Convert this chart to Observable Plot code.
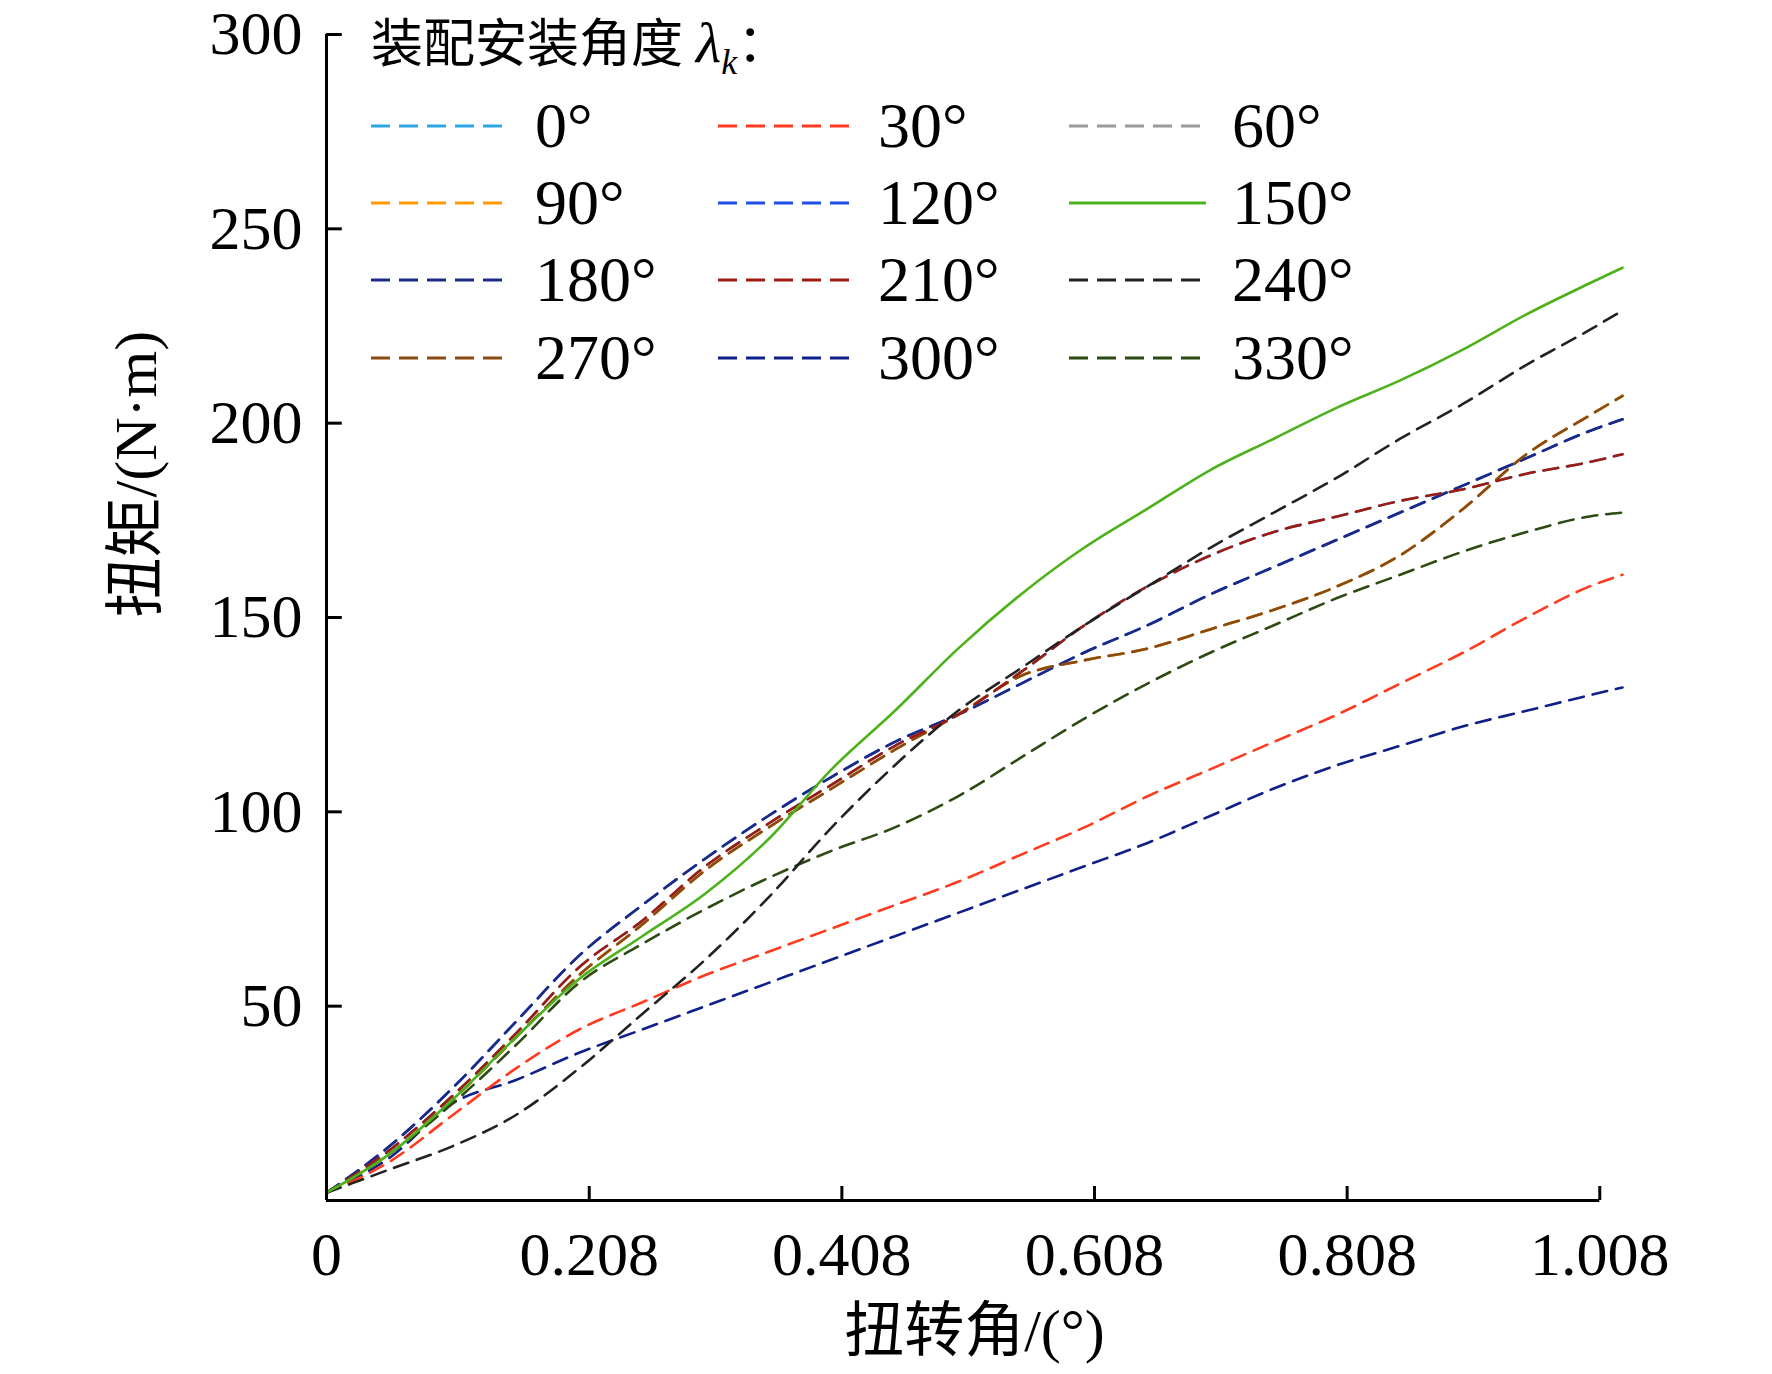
<!DOCTYPE html>
<html><head><meta charset="utf-8">
<script src="https://cdn.jsdelivr.net/npm/d3@7"></script>
<script src="https://cdn.jsdelivr.net/npm/@observablehq/plot@0.6"></script>
<style>
body{margin:0;background:#fff;}
#wrap{position:relative;width:1772px;height:1374px;font-family:"Liberation Serif","Noto Sans CJK SC",serif;}
#legend{position:absolute;left:0;top:0;}
</style></head><body>
<div id="wrap"><div id="chart"></div><div id="legend"></div></div>
<script>
const angles = ["0°","30°","60°","90°","120°","150°","180°","210°","240°","270°","300°","330°"];
const colors = ["#2ea6e6","#ff3a1e","#9a9a9a","#ff9a00","#1f4fe6","#4cb11a","#1a2a86","#a01a10","#222222","#8a4a10","#10208a","#2d4a12"];
const xs = [0,0.05,0.1,0.15,0.2,0.25,0.3,0.35,0.4,0.45,0.5,0.55,0.6,0.65,0.7,0.75,0.8,0.85,0.9,0.95,1.0,1.026];
const s210 = [2,13,27,43,60,72,86,97,107,117,125,136,148,158,166,172,176,180,183,187,190,192];
const s270 = [2,12,26,42,58,71,85,96,106,116,125,135,139,142,147,152,158,166,178,192,202,207];
const s120 = [2,14,29,46,63,76,88,99,109,118,125,133,141,148,156,163,170,177,184,191,198,201];
const s150 = [2,12,26,42,57,68,79,93,111,126,142,156,168,178,188,196,204,211,219,228,236,240];
const s240 = [2,8,14,22,34,48,62,78,96,112,126,137,148,158,168,177,186,196,205,215,224,229];
const s330 = [2,12,25,40,56,66,75,83,90,96,104,114,124,133,141,148,155,161,167,172,176,177];
const s30  = [2,10,22,34,44,51,58,64,70,76,82,89,96,104,111,118,125,133,141,150,158,161];
const s300 = [2,11,25,31,38,44,50,56,62,68,74,80,86,92,99,106,112,117,122,126,130,132];
const seriesVals = [s210,s30,s270,s270,s120,s150,s120,s210,s240,s270,s300,s330];
const xTicks = [0,0.208,0.408,0.608,0.808,1.008];
const yTicks = [50,100,150,200,250,300];

const rows = [];
angles.forEach((a,i)=>seriesVals[i].forEach((v,j)=>rows.push({a,x:xs[j],y:v})));
const order = [2,0,3,4,6,9,7,10,1,11,8,5];
const marks = [];
for (const i of order) {
  marks.push(Plot.line(rows.filter(r=>r.a===angles[i]),{x:"x",y:"y",stroke:colors[i],strokeWidth:2.6,
    strokeDasharray:i===5?null:"15,9",curve:"monotone-x"}));
}
const chart = Plot.plot({
  width:1772,height:1374,marginLeft:326,marginRight:150,marginTop:34,marginBottom:174,
  style:{fontFamily:"Liberation Serif, serif",background:"#fff"},
  x:{domain:[0,1.026]},
  y:{domain:[0,300]},
  marks:[
    ...marks,
    Plot.ruleY([0],{x1:0,x2:1.008,stroke:"#000",strokeWidth:3}),
    Plot.ruleX([0],{y1:0,y2:300,stroke:"#000",strokeWidth:3}),
    Plot.ruleX(xTicks.slice(1),{y1:0,y2:3.6,stroke:"#000",strokeWidth:3}),
    Plot.ruleY(yTicks,{x1:0,x2:0.0125,stroke:"#000",strokeWidth:3}),
    Plot.axisX({ticks:xTicks,tickSize:0,tickPadding:30,fontSize:62,tickFormat:d=>d===0?"0":d.toFixed(3),label:null}),
    Plot.axisY({ticks:yTicks,tickSize:0,tickPadding:24,fontSize:62,label:null}),
    Plot.text(["扭转角/(°)"],{frameAnchor:"bottom",dy:150,fontSize:60,fontFamily:"Liberation Serif, Noto Sans CJK SC"}),
    Plot.text(["扭矩/(N·m)"],{frameAnchor:"left",dx:-190,rotate:-90,fontSize:60,fontFamily:"Liberation Serif, Noto Sans CJK SC"})
  ]
});
document.getElementById("chart").appendChild(chart);

// legend overlay
const lg=d3.select("#legend").append("svg").attr("width",1772).attr("height",420);
const t=lg.append("text").attr("x",371).attr("y",62).attr("font-size",52).attr("font-family","Liberation Serif, Noto Sans CJK SC");
t.append("tspan").text("装配安装角度 ");
t.append("tspan").attr("font-style","italic").attr("font-size",58).text("λ");
t.append("tspan").attr("font-style","italic").attr("font-size",36).attr("dy",12).text("k");
t.append("tspan").attr("dy",-12).text("：");
const colX=[[371,509,535],[718,855,878],[1069,1206,1232]];
const rowY=[126,203,280,358];
angles.forEach((a,i)=>{
  const c=colX[i%3], y=rowY[Math.floor(i/3)];
  lg.append("line").attr("x1",c[0]).attr("x2",c[1]).attr("y1",y).attr("y2",y)
    .attr("stroke",colors[i]).attr("stroke-width",3).attr("stroke-dasharray",i===5?null:"19,9");
  lg.append("text").attr("x",c[2]).attr("y",y+21).attr("font-size",64).attr("font-family","Liberation Serif").text(a);
});
</script></body></html>
